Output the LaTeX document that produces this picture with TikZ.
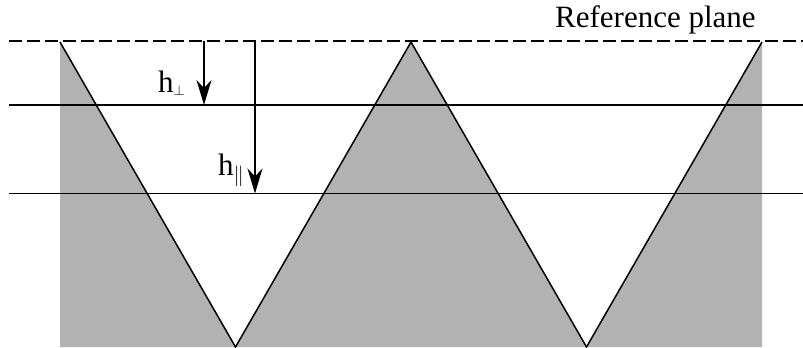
\documentclass[tikz,border=0pt]{standalone}
\usepackage{fontspec}
\setmainfont{Liberation Serif}
\usetikzlibrary{arrows.meta}
\begin{document}
\begin{tikzpicture}[x=1bp,y=-1bp,
  refline/.style={line width=1.5bp,dash pattern=on 13bp off 5bp},
  plane/.style={line width=1.5bp},
  edge/.style={line width=1.5bp},
  meas/.style={line width=1.5bp,-{Stealth[length=25bp,width=15bp,inset=8bp]}},
  lbl/.style={font=\fontsize{31bp}{36bp}\selectfont,inner sep=0pt}]
\useasboundingbox (0,0) rectangle (803,347);
% profile points
\coordinate (p1) at (60,42);
\coordinate (v1) at (235.5,347);
\coordinate (p2) at (411,42);
\coordinate (v2) at (586.5,347);
\coordinate (p3) at (762,42);
\fill[black!30] (p1) -- (v1) -- (p2) -- (v2) -- (p3) -- (762,347) -- (60,347) -- cycle;
\draw[edge] (p1) -- (v1) -- (p2) -- (v2) -- (p3);
% planes
\coordinate (r0) at (9,41);   \coordinate (r1) at (803,41);
\coordinate (a0) at (9,105);  \coordinate (a1) at (803,105);
\coordinate (b0) at (9,193.5);\coordinate (b1) at (803,193.5);
\draw[refline] (r0) -- (r1);
\draw[plane] (a0) -- (a1);
\draw[plane] (b0) -- (b1);
% arrows
\coordinate (s1) at (204,41); \coordinate (e1) at (204,105);
\coordinate (s2) at (255,41); \coordinate (e2) at (255,193.5);
\draw[meas] (s1) -- (e1);
\draw[meas] (s2) -- (e2);
% labels
\node[lbl,anchor=base west] (ref) at (555,27) {Reference plane};
\node[lbl,anchor=base west] (hp) at (158,92) {h$_{\scriptscriptstyle\perp}$};
\node[lbl,anchor=base west] (hq) at (218,175) {h$_{\|}$};
\end{tikzpicture}
\end{document}
